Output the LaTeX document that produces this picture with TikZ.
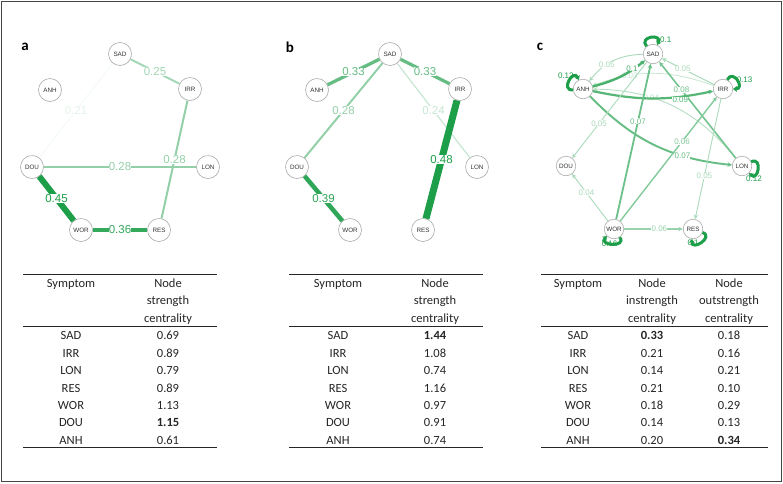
\documentclass[tikz,border=0pt]{standalone}
\usepackage{fontspec}
\setmainfont{Carlito}
\newfontfamily\arialf{Liberation Sans}
\usetikzlibrary{arrows.meta}
\definecolor{G}{RGB}{29,158,73}
\definecolor{framec}{RGB}{70,70,70}
\tikzset{
  x=1pt, y=1pt,
  sym/.style={circle, draw=gray!65, fill=white, line width=0.6pt, minimum size=23pt, inner sep=0pt,
    font=\arialf\fontsize{6.3}{7}\selectfont, text=black!80},
  symc/.style={sym, minimum size=19.5pt},
  elab/.style={fill=white, inner sep=0.3pt, font=\arialf\fontsize{11.5}{12}\selectfont},
  elabc/.style={fill=white, inner sep=0.2pt, font=\arialf\fontsize{8}{9}\selectfont},
  ed/.style 2 args={line width=#1, draw=#2, text=#2},
  ce/.style 2 args={line width=#1, draw=#2, text=#2, -{Stealth[length=4.5pt,width=4.5pt]}},
  lp/.style={line width=3pt, draw=G, text=G, -{Stealth[length=4pt,width=6pt]}, loop, min distance=13pt},
  cell/.style={anchor=base, inner sep=0pt, font=\fontsize{12.5}{14}\selectfont, text=black!85},
  plab/.style={inner sep=0pt, font=\bfseries\fontsize{15}{16}\selectfont},
  trule/.style={line width=1.1pt, draw=black!85},
  mrule/.style={line width=0.8pt, draw=black!85},
}
\begin{document}
\begin{tikzpicture}
\useasboundingbox (0,0) rectangle (783,-483);
\fill[white] (0,0) rectangle (783,-483);
\draw[framec, line width=0.9pt] (1,-1) rectangle (781,-481);

% ---------------- panel a ----------------
\node[plab] (la) at (25,-47) {a};
\node[sym] (aSAD) at (120,-54) {SAD};
\node[sym] (aANH) at (50,-90) {ANH};
\node[sym] (aIRR) at (190,-89) {IRR};
\node[sym] (aDOU) at (32,-167) {DOU};
\node[sym] (aLON) at (208,-167) {LON};
\node[sym] (aWOR) at (81,-230) {WOR};
\node[sym] (aRES) at (159,-230) {RES};
\draw[ed={0.5pt}{G!8}] (aSAD) -- node[elab, text=G!12]{0.21} (aDOU);
\draw[ed={1.8pt}{G!42}] (aSAD) -- node[elab]{0.25} (aIRR);
\draw[ed={2pt}{G!48}] (aIRR) -- node[elab]{0.28} (aRES);
\draw[ed={2pt}{G!48}] (aDOU) -- node[elab]{0.28} (aLON);
\draw[ed={6pt}{G}] (aDOU) -- node[elab]{0.45} (aWOR);
\draw[ed={4.5pt}{G!90}] (aWOR) -- node[elab]{0.36} (aRES);

% ---------------- panel b ----------------
\node[plab] (lb) at (290,-47) {b};
\node[sym] (bSAD) at (390,-54) {SAD};
\node[sym] (bANH) at (317,-90) {ANH};
\node[sym] (bIRR) at (460,-89) {IRR};
\node[sym] (bDOU) at (297,-167) {DOU};
\node[sym] (bLON) at (477,-167) {LON};
\node[sym] (bWOR) at (350,-230) {WOR};
\node[sym] (bRES) at (423,-230) {RES};
\draw[ed={3.3pt}{G!68}] (bSAD) -- node[elab]{0.33} (bANH);
\draw[ed={3.3pt}{G!68}] (bSAD) -- node[elab]{0.33} (bIRR);
\draw[ed={2pt}{G!48}] (bSAD) -- node[elab]{0.28} (bDOU);
\draw[ed={1.2pt}{G!25}] (bSAD) -- node[elab]{0.24} (bLON);
\draw[ed={7pt}{G}] (bIRR) -- node[elab]{0.48} (bRES);
\draw[ed={4.5pt}{G!92}] (bDOU) -- node[elab]{0.39} (bWOR);

% ---------------- panel c ----------------
\node[plab] (lc) at (540,-47) {c};
\node[symc] (cSAD) at (653,-54) {SAD};
\node[symc] (cANH) at (583,-89) {ANH};
\node[symc] (cIRR) at (723,-89) {IRR};
\node[symc] (cDOU) at (566,-166) {DOU};
\node[symc] (cLON) at (742,-166) {LON};
\node[symc] (cWOR) at (614,-229) {WOR};
\node[symc] (cRES) at (693,-229) {RES};
\draw[ce={0.9pt}{G!38}] (cSAD) to[bend right=25] node[elabc, pos=0.62]{0.05} (cANH);
\draw[ce={0.7pt}{G!28}] (cIRR) to[bend right=20] node[elabc, pos=0.7]{0.03} (cANH);
\draw[ce={0.9pt}{G!38}] (cIRR) -- node[elabc, pos=0.6]{0.05} (cSAD);
\draw[ce={0.9pt}{G!33}] (cLON) to[bend right=25] node[elabc, pos=0.65]{0.04} (cANH);
\draw[ce={1.6pt}{G!62}] (cLON) -- node[elabc, pos=0.71]{0.08} (cSAD);
\draw[ce={1.9pt}{G!68}] (cANH) to[bend right=20] node[elabc, pos=0.7]{0.07} (cLON);
\draw[ce={2.2pt}{G!75}] (cANH) to[bend right=12] node[elabc, pos=0.74, yshift=-3pt]{0.09} (cIRR);
\draw[ce={2.4pt}{G!80}] (cANH) to[bend right=12] node[elabc, pos=0.74, yshift=1.5pt]{0.1} (cSAD);
\draw[ce={0.9pt}{G!38}] (cSAD) -- node[elabc, pos=0.64]{0.05} (cDOU);
\draw[ce={1.8pt}{G!65}] (cWOR) -- node[elabc, pos=0.63]{0.07} (cSAD);
\draw[ce={1.4pt}{G!55}] (cWOR) -- node[elabc, pos=0.64]{0.06} (cIRR);
\draw[ce={0.9pt}{G!38}] (cIRR) -- node[elabc, pos=0.64]{0.05} (cRES);
\draw[ce={0.9pt}{G!38}] (cWOR) -- node[elabc, pos=0.6]{0.04} (cDOU);
\draw[ce={1.2pt}{G!45}] (cWOR) -- node[elabc, pos=0.6]{0.06} (cRES);
\draw[lp] (cSAD) to[out=130, in=65] node[elabc, fill=none, pos=0.8, right=1pt]{0.1} (cSAD);
\draw[lp] (cANH) to[out=185, in=115] node[elabc, fill=none, pos=0.4, above=3pt, xshift=-2pt]{0.12} (cANH);
\draw[lp] (cIRR) to[out=65, in=0] node[elabc, fill=none, pos=0.5, right=-2pt]{0.13} (cIRR);
\draw[lp] (cLON) to[out=25, in=-45] node[elabc, fill=none, pos=0.8, below=-1pt]{0.12} (cLON);
\draw[lp] (cWOR) to[out=-55, in=-135] node[elabc, fill=none, pos=0.6]{0.16} (cWOR);
\draw[lp] (cRES) to[out=-20, in=-95] node[elabc, fill=none, pos=0.85]{0.1} (cRES);

% ---------------- table a ----------------
\draw[trule] (23,-274.5) -- (217,-274.5);
\draw[mrule] (23,-326) -- (217,-326);
\draw[trule] (23,-447.7) -- (217,-447.7);
\node[cell] (taH1) at (71,-287.5) {Symptom};
\node[cell] (taH2) at (168,-287.5) {Node};
\node[cell] (taH3) at (168,-304.5) {strength};
\node[cell] (taH4) at (168,-322) {centrality};
\foreach \s/\v [count=\i from 0] in {SAD/0.69,IRR/0.89,LON/0.79,RES/0.89,WOR/1.13,DOU/\textbf{1.15},ANH/0.61}{
  \node[cell] (tas\i) at (71,{-339.8-17.4*\i}) {\s};
  \node[cell] (tav\i) at (168,{-339.8-17.4*\i}) {\v};
}

% ---------------- table b ----------------
\draw[trule] (289,-274.5) -- (483,-274.5);
\draw[mrule] (289,-326) -- (483,-326);
\draw[trule] (289,-447.7) -- (483,-447.7);
\node[cell] (tbH1) at (338,-287.5) {Symptom};
\node[cell] (tbH2) at (435,-287.5) {Node};
\node[cell] (tbH3) at (435,-304.5) {strength};
\node[cell] (tbH4) at (435,-322) {centrality};
\foreach \s/\v [count=\i from 0] in {SAD/\textbf{1.44},IRR/1.08,LON/0.74,RES/1.16,WOR/0.97,DOU/0.91,ANH/0.74}{
  \node[cell] (tbs\i) at (338,{-339.8-17.4*\i}) {\s};
  \node[cell] (tbv\i) at (435,{-339.8-17.4*\i}) {\v};
}

% ---------------- table c ----------------
\draw[trule] (541,-274.5) -- (768,-274.5);
\draw[mrule] (541,-326) -- (768,-326);
\draw[trule] (541,-447.7) -- (768,-447.7);
\node[cell] (tcH1) at (578,-287.5) {Symptom};
\node[cell] (tcH2) at (652,-287.5) {Node};
\node[cell] (tcH3) at (652,-304.5) {instrength};
\node[cell] (tcH4) at (652,-322) {centrality};
\node[cell] (tcH5) at (729,-287.5) {Node};
\node[cell] (tcH6) at (729,-304.5) {outstrength};
\node[cell] (tcH7) at (729,-322) {centrality};
\foreach \s/\v/\w [count=\i from 0] in {SAD/\textbf{0.33}/0.18,IRR/0.21/0.16,LON/0.14/0.21,RES/0.21/0.10,WOR/0.18/0.29,DOU/0.14/0.13,ANH/0.20/\textbf{0.34}}{
  \node[cell] (tcs\i) at (578,{-339.8-17.4*\i}) {\s};
  \node[cell] (tcv\i) at (652,{-339.8-17.4*\i}) {\v};
  \node[cell] (tcw\i) at (729,{-339.8-17.4*\i}) {\w};
}
\end{tikzpicture}
\end{document}
